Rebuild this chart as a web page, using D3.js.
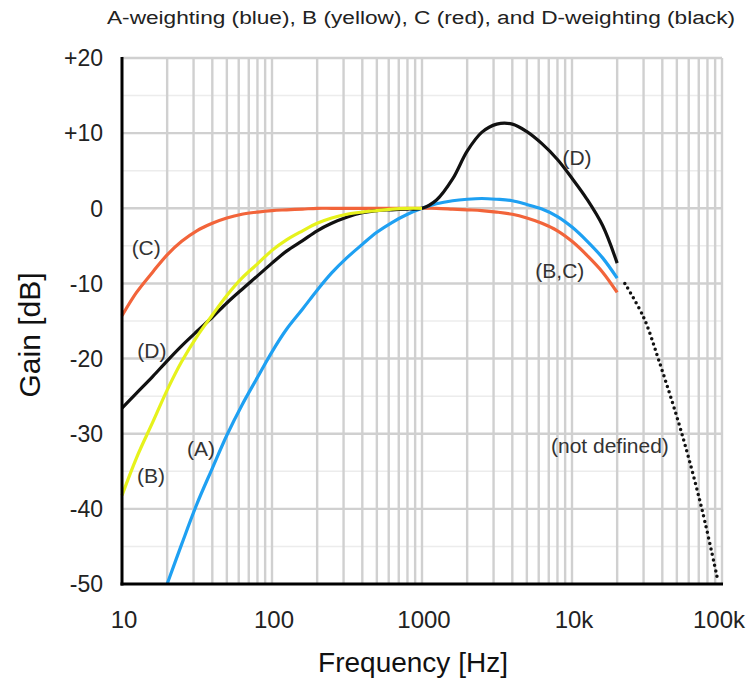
<!DOCTYPE html>
<html>
<head>
<meta charset="utf-8">
<script src="https://cdn.jsdelivr.net/npm/d3@7"></script>
<style>
  body { margin: 0; background: #fff; }
  svg { display: block; font-family: "Liberation Sans", Arial, sans-serif; }
</style>
</head>
<body>
<div id="chart"></div>
<script>
// Weighting curves (gain in dB vs frequency in Hz)
const freqA = [20, 25, 31.5, 40, 50, 63, 80, 100, 125, 160, 200, 250, 315, 400, 500, 630, 800,
  1000, 1250, 1600, 2000, 2500, 3150, 4000, 5000, 6300, 8000, 10000, 12500, 16000, 20000];
const gainA = [-50, -44.7, -39.4, -34.6, -30.2, -26.2, -22.5, -19.1, -16.1, -13.4, -10.9, -8.6, -6.6, -4.8, -3.2, -1.9, -0.8,
  0, 0.6, 1.0, 1.2, 1.3, 1.2, 1.0, 0.5, -0.1, -1.1, -2.5, -4.3, -6.6, -9.3];

const freqB = [10, 12.5, 16, 20, 25, 31.5, 40, 50, 63, 80, 100, 125, 160, 200, 250, 315, 400, 500, 630, 800, 1000];
const gainB = [-38.2, -33.2, -28.5, -24.2, -20.4, -17.1, -14.2, -11.6, -9.3, -7.4, -5.6, -4.2, -3.0, -2.0, -1.3, -0.8, -0.5, -0.3, -0.1, 0, 0];

const freqC = [10, 12.5, 16, 20, 25, 31.5, 40, 50, 63, 80, 100, 125, 160, 200, 250, 315, 400, 500, 630, 800,
  1000, 1250, 1600, 2000, 2500, 3150, 4000, 5000, 6300, 8000, 10000, 12500, 16000, 20000];
const gainC = [-14.3, -11.2, -8.5, -6.2, -4.4, -3.0, -2.0, -1.3, -0.8, -0.5, -0.3, -0.2, -0.1, 0, 0, 0, 0, 0, 0, 0,
  0, 0, -0.1, -0.2, -0.3, -0.5, -0.8, -1.3, -2.0, -3.0, -4.4, -6.2, -8.5, -11.2];

const freqD = freqC;
const gainD = [-26.6, -24.6, -22.4, -20.3, -18.3, -16.4, -14.5, -12.6, -10.8, -9.0, -7.3, -5.7, -4.3, -3.0, -2.0, -1.2, -0.6, -0.3, -0.2, -0.1,
  0, 1.1, 3.9, 7.6, 10.1, 11.2, 11.2, 10.2, 8.6, 6.5, 4.0, 1.3, -2.3, -7.3];

// dotted extension above 20 kHz
const freqUndef = [22500, 30000, 38000, 54000, 74000, 94000];
const gainUndef = [-10, -14.5, -20.3, -30, -40.3, -49.6];

const xTicks = [10, 100, 1000, 10000, 100000];
const xTickLabels = ["10", "100", "1000", "10k", "100k"];
const yTicks = [20, 10, 0, -10, -20, -30, -40, -50];
const yTickLabels = ["+20", "+10", "0", "-10", "-20", "-30", "-40", "-50"];

const labelText = ["(C)", "(D)", "(B)", "(A)", "(D)", "(B,C)", "(not defined)"];
const labelFreq = [14.5, 15.8, 15.6, 33.6, 10800, 8300, 17900];
const labelGain = [-5.2, -18.9, -35.6, -32, 6.8, -8.3, -31.6];

const W = 748, H = 681;
const svg = d3.select("#chart").append("svg").attr("width", W).attr("height", H);

const x = d3.scaleLog().domain([10, 100000]).range([122, 722]);
const y = d3.scaleLinear().domain([-50, 20]).range([584, 58]);

// grid
const grid = svg.append("g");
const minorY = d3.range(-45, 20, 10);
grid.selectAll(".hmin").data(minorY).join("line")
  .attr("x1", x(10)).attr("x2", x(100000))
  .attr("y1", d => y(d)).attr("y2", d => y(d))
  .attr("stroke", "#ececec").attr("stroke-width", 1.5);

const vLines = [];
[10, 100, 1000, 10000].forEach(dec => {
  for (let k = 2; k <= 10; k++) vLines.push(dec * k);
});
grid.selectAll(".v").data(vLines).join("line")
  .attr("x1", d => x(d)).attr("x2", d => x(d))
  .attr("y1", y(20)).attr("y2", y(-50))
  .attr("stroke", "#d0d0d0").attr("stroke-width", 2.4);

grid.selectAll(".h").data(d3.range(-40, 21, 10)).join("line")
  .attr("x1", x(10)).attr("x2", x(100000))
  .attr("y1", d => y(d)).attr("y2", d => y(d))
  .attr("stroke", "#d0d0d0").attr("stroke-width", 2.4);

// curves
const line = d3.line()
  .x(d => x(d[0]))
  .y(d => y(d[1]))
  .curve(d3.curveCatmullRom.alpha(0.5));

const zip = (f, g) => f.map((v, i) => [v, g[i]]);

svg.append("path").datum(zip(freqUndef, gainUndef))
  .attr("d", line).attr("fill", "none")
  .attr("stroke", "#111").attr("stroke-width", 3.5)
  .attr("stroke-linecap", "round").attr("stroke-dasharray", "0 5.6");

const series = [
  { f: freqC, g: gainC, color: "#f2643a" },
  { f: freqA, g: gainA, color: "#1ea0f2" },
  { f: freqD, g: gainD, color: "#111111" },
  { f: freqB, g: gainB, color: "#e6f21c" }
];
series.forEach(s => {
  svg.append("path").datum(zip(s.f, s.g))
    .attr("d", line).attr("fill", "none")
    .attr("stroke", s.color).attr("stroke-width", 3.2);
});

// axes lines
svg.append("line").attr("x1", x(10)).attr("x2", x(10))
  .attr("y1", y(20) - 1).attr("y2", y(-50) + 1.5)
  .attr("stroke", "#000").attr("stroke-width", 3);
svg.append("line").attr("x1", x(10) - 1.5).attr("x2", x(100000) + 1)
  .attr("y1", y(-50)).attr("y2", y(-50))
  .attr("stroke", "#000").attr("stroke-width", 3);

// tick labels
svg.selectAll(".yt").data(yTicks).join("text")
  .attr("x", 103).attr("y", d => y(d))
  .attr("dy", "0.36em").attr("text-anchor", "end")
  .attr("font-size", 23).attr("fill", "#222")
  .text((d, i) => yTickLabels[i]);

svg.selectAll(".xt").data(xTicks).join("text")
  .attr("x", (d, i) => i === xTicks.length - 1 ? 745 : x(d) + 2).attr("y", 628)
  .attr("text-anchor", (d, i) => i === xTicks.length - 1 ? "end" : "middle")
  .attr("font-size", 24).attr("fill", "#222")
  .text((d, i) => xTickLabels[i]);

// curve labels
svg.selectAll(".lbl").data(labelText).join("text")
  .attr("x", (d, i) => x(labelFreq[i])).attr("y", (d, i) => y(labelGain[i]))
  .attr("dy", "0.35em").attr("text-anchor", "middle")
  .attr("font-size", 21).attr("fill", "#333")
  .text(d => d);

// titles
svg.append("text")
  .attr("x", 421).attr("y", 24).attr("text-anchor", "middle")
  .attr("font-size", 18).attr("fill", "#222")
  .attr("textLength", 628).attr("lengthAdjust", "spacingAndGlyphs")
  .text("A-weighting (blue), B (yellow), C (red), and D-weighting (black)");

svg.append("text")
  .attr("x", 413).attr("y", 672).attr("text-anchor", "middle")
  .attr("font-size", 28).attr("fill", "#111")
  .text("Frequency [Hz]");

svg.append("text")
  .attr("transform", `translate(40, 335) rotate(-90)`)
  .attr("text-anchor", "middle")
  .attr("font-size", 30).attr("fill", "#111")
  .text("Gain [dB]");
</script>
</body>
</html>
